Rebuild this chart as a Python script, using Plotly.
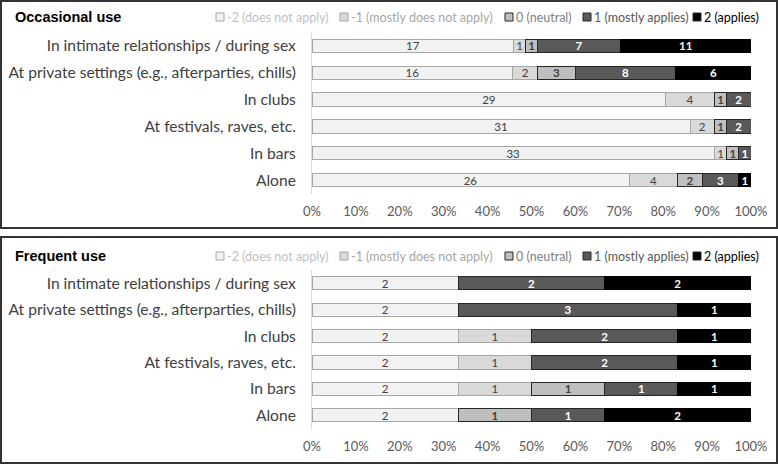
import plotly.graph_objects as go

W, H = 778, 465

categories = [
    "In intimate relationships / during sex",
    "At private settings (e.g., afterparties, chills)",
    "In clubs",
    "At festivals, raves, etc.",
    "In bars",
    "Alone",
]
series_names = ["-2 (does not apply)", "-1 (mostly does not apply)", "0 (neutral)",
                "1 (mostly applies)", "2 (applies)"]

# Occasional use counts per series (rows follow categories)
occ_m2 = [17, 16, 29, 31, 33, 26]
occ_m1 = [1, 2, 4, 2, 1, 4]
occ_0 = [1, 3, 1, 1, 1, 2]
occ_p1 = [7, 8, 2, 2, 1, 3]
occ_p2 = [11, 6, 0, 0, 0, 1]

# Frequent use counts
frq_m2 = [2, 2, 2, 2, 2, 2]
frq_m1 = [0, 0, 1, 1, 1, 0]
frq_0 = [0, 0, 0, 0, 1, 1]
frq_p1 = [2, 3, 2, 2, 1, 1]
frq_p2 = [2, 1, 1, 1, 1, 2]

tick_vals = [0, 10, 20, 30, 40, 50, 60, 70, 80, 90, 100]
tick_text = ["0%", "10%", "20%", "30%", "40%", "50%", "60%", "70%", "80%", "90%", "100%"]

panel_titles = ["Occasional use", "Frequent use"]

fills = ["#f2f2f2", "#d9d9d9", "#bfbfbf", "#595959", "#000000"]
borders = ["#a6a6a6", "#a6a6a6", "#262626", "#262626", "#000000"]
txtcol = ["#404040", "#404040", "#404040", "#ffffff", "#ffffff"]
legcol = ["#bfbfbf", "#a6a6a6", "#7f7f7f", "#595959", "#000000"]

FONT = "Lato"


def px(x):
    return x / W


def py(y):
    return 1 - y / H


fig = go.Figure()

panels = [
    [occ_m2, occ_m1, occ_0, occ_p1, occ_p2],
    [frq_m2, frq_m1, frq_0, frq_p1, frq_p2],
]

for p, data in enumerate(panels):
    xa = "x" if p == 0 else "x2"
    ya = "y" if p == 0 else "y2"
    for i, vals in enumerate(data):
        v = [val if val else None for val in vals]
        fig.add_trace(go.Bar(
            y=categories, x=v, orientation="h", name=series_names[i],
            xaxis=xa, yaxis=ya, showlegend=False,
            marker=dict(color=fills[i], line=dict(color=borders[i], width=1)),
            text=[str(val) if val else "" for val in vals],
            texttemplate="%{text}", textposition="inside", insidetextanchor="middle",
            constraintext="none", textangle=0,
            textfont=dict(family=FONT, size=11.5, color=txtcol[i],
                          weight="bold" if i >= 2 else "normal"),
            hoverinfo="skip",
        ))

common_x = dict(range=[0, 100], tickvals=tick_vals, ticktext=tick_text,
                showgrid=False, zeroline=False, showline=False, ticks="",
                tickfont=dict(family=FONT, size=13, color="#595959"),
                ticklabelstandoff=8, fixedrange=True, automargin=False)
common_y = dict(autorange="reversed", showgrid=False, zeroline=False,
                showline=True, linecolor="#d9d9d9", linewidth=1, ticks="",
                tickfont=dict(family=FONT, size=15.6, color="#404040"),
                ticklabelstandoff=12, fixedrange=True, automargin=False)

fig.update_layout(
    width=W, height=H, margin=dict(l=0, r=0, t=0, b=0, autoexpand=False),
    paper_bgcolor="white", plot_bgcolor="white",
    barmode="stack", barnorm="percent", bargap=0.5,
    xaxis=dict(domain=[px(312), px(751)], anchor="y", **common_x),
    yaxis=dict(domain=[py(193.5), py(32.5)], anchor="x", **common_y),
    xaxis2=dict(domain=[px(312), px(751)], anchor="y2", **common_x),
    yaxis2=dict(domain=[py(428.5), py(270)], anchor="x2", **common_y),
    font=dict(family=FONT),
)

# panel borders
for (y0, y1) in [(1, 228), (237, 463)]:
    fig.add_shape(type="rect", xref="paper", yref="paper",
                  x0=px(1), x1=px(777), y0=py(y1), y1=py(y0),
                  line=dict(color="#333333", width=2), fillcolor="rgba(0,0,0,0)")

leg_x = [216, 340, 505, 583, 693]
for p, (title_y) in enumerate([17, 256]):
    fig.add_annotation(xref="paper", yref="paper", x=px(13), y=py(title_y),
                       xanchor="left", yanchor="middle", showarrow=False,
                       text="<b>%s</b>" % panel_titles[p],
                       font=dict(family="Liberation Sans", size=14.5, color="#000000"))
    for i, name in enumerate(series_names):
        x0 = leg_x[i]
        fig.add_shape(type="rect", xref="paper", yref="paper",
                      x0=px(x0), x1=px(x0 + 8), y0=py(title_y + 4), y1=py(title_y - 4),
                      line=dict(color=borders[i] if i < 2 else "#262626", width=1),
                      fillcolor=fills[i])
        fig.add_annotation(xref="paper", yref="paper", x=px(x0 + 9), y=py(title_y),
                           xanchor="left", yanchor="middle", showarrow=False,
                           text=name, font=dict(family=FONT, size=12.5, color=legcol[i]))

fig.write_html("out.html")
